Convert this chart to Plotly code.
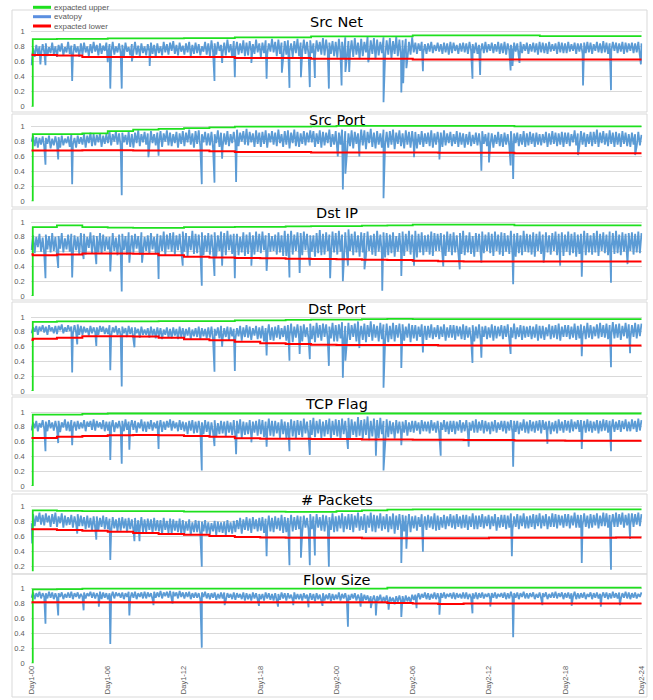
import plotly.graph_objects as go

W, H = 653, 700

panel_titles = ["Src Net", "Src Port", "Dst IP", "Dst Port", "TCP Flag", "# Packets", "Flow Size"]
x_tick_hours = [0, 6, 12, 18, 24, 30, 36, 42, 48]
x_tick_labels = ["Day1-00", "Day1-06", "Day1-12", "Day1-18", "Day2-00",
                 "Day2-06", "Day2-12", "Day2-18", "Day2-24"]
y_tick_vals = [0, 0.2, 0.4, 0.6, 0.8, 1]
y_tick_text = ["0", "0.2", "0.4", "0.6", "0.8", "1"]
bound_hours = [0, 0.1] + list(range(2, 49, 2))

# ---- evatopy band (percent, 8 readings per hour over 48 h) ----
srcnet_band = [
    55,78,66,82,70,80,68,83, 72,84,67,79,71,85,69,80, 66,82,73,84,68,79,72,86, 70,81,67,83,72,80,66,84,
    69,85,72,80,67,83,71,86, 73,82,68,84,70,81,74,85, 67,83,71,86,69,80,72,84, 70,82,66,85,73,79,68,83,
    72,86,69,81,67,84,71,80, 68,83,73,85,70,82,66,84, 71,80,68,86,72,83,69,85, 74,87,70,82,68,85,73,81,
    69,84,72,86,67,82,70,85, 71,83,68,80,73,86,69,84, 67,88,72,84,69,86,74,82, 70,85,68,89,72,83,66,87,
    73,86,69,84,71,88,67,85, 68,87,73,83,70,89,72,84, 66,85,71,88,69,84,73,90, 72,86,67,89,70,85,68,87,
    69,88,73,84,66,87,71,90, 67,85,72,89,70,86,68,88, 71,84,66,88,73,86,69,91, 68,89,72,85,70,87,67,86,
    65,90,70,86,64,92,68,87, 71,88,66,91,69,85,63,90, 67,86,72,93,65,88,70,91, 63,89,68,86,71,92,66,88,
    69,91,64,87,70,93,67,89, 65,88,71,90,63,86,69,92, 72,85,70,84,74,86,71,83, 70,84,73,86,71,82,74,85,
    73,83,70,85,72,84,69,86, 71,85,74,82,70,84,73,85, 72,84,70,86,74,83,71,85, 70,82,73,84,71,86,72,83,
    74,85,71,83,73,86,70,84, 71,86,69,84,74,82,72,85, 73,84,70,86,71,83,74,85, 70,83,73,85,72,84,69,86,
    72,85,71,84,70,86,73,83, 74,84,70,86,72,85,71,84, 71,86,73,83,74,85,70,84, 73,84,70,85,71,86,72,85,
    70,83,74,86,72,84,71,87, 72,85,70,84,73,86,74,85, 71,84,73,86,70,85,72,84, 74,85,71,84,72,86,70,84]
srcport_band = [
    80,88,74,86,72,85,76,87, 73,85,77,88,71,84,75,87, 76,86,72,88,75,84,78,87, 73,89,76,85,72,88,77,86,
    76,90,72,88,78,92,74,90, 75,89,79,91,73,88,77,90, 78,93,75,90,80,94,76,91, 74,92,79,89,76,93,73,90,
    72,92,78,95,74,90,79,93, 76,91,73,94,78,90,75,92, 77,94,73,91,80,95,75,92, 74,90,78,93,72,91,77,94,
    74,92,79,96,76,91,72,94, 77,95,73,90,79,93,75,91, 75,93,71,90,78,95,73,92, 72,91,76,94,74,90,78,93,
    78,96,74,92,80,94,76,97, 75,93,79,91,73,95,77,92, 73,93,77,95,72,91,79,94, 76,92,74,96,78,90,73,94,
    76,95,71,92,78,96,74,93, 73,91,77,94,75,92,79,95, 79,94,73,91,77,95,72,93, 75,92,78,96,73,90,76,94,
    70,92,76,96,72,94,68,91, 74,95,71,93,77,91,73,96, 75,95,70,93,78,97,73,92, 71,94,76,91,72,96,75,93,
    72,94,76,96,70,92,77,95, 74,91,71,95,76,93,72,94, 74,93,71,90,76,94,73,91, 77,92,74,95,72,91,76,93,
    77,92,73,95,75,91,78,93, 74,90,77,94,73,92,76,91, 72,90,76,93,74,89,77,92, 75,91,73,94,77,90,74,92,
    75,91,72,89,77,93,74,90, 73,92,76,90,74,94,72,91, 78,92,74,90,76,94,73,91, 75,93,77,91,73,92,76,90,
    75,90,78,93,73,91,76,94, 77,92,74,91,76,93,73,92, 77,92,74,90,79,95,75,91, 74,94,76,92,73,90,77,93,
    74,93,77,96,73,92,78,94, 76,91,74,95,77,92,73,93, 76,91,73,94,77,92,74,90, 73,92,76,90,74,93,75,89]
dstip_band = [
    62,82,58,80,66,84,60,79, 57,83,63,81,59,85,61,80, 55,81,64,85,59,78,63,83, 60,84,57,82,62,80,56,85,
    60,84,56,80,65,86,58,82, 63,81,59,85,57,83,61,80, 63,80,57,85,61,79,55,83, 58,84,62,81,56,86,60,82,
    59,84,64,81,56,86,62,80, 61,82,57,85,63,80,58,84, 57,82,61,87,55,83,63,85, 60,86,56,82,62,84,58,87,
    60,85,54,81,62,88,57,84, 58,83,61,86,55,82,60,85, 56,83,60,86,53,82,61,87, 59,85,55,88,62,83,57,84,
    62,84,55,80,59,86,54,83, 57,86,61,82,56,87,60,84, 58,87,62,82,55,85,60,81, 61,83,56,86,59,82,54,88,
    54,84,59,88,56,83,61,86, 58,85,55,87,62,84,57,82, 60,82,53,85,58,89,55,84, 56,86,61,83,54,87,59,85,
    56,88,60,83,52,86,58,90, 61,84,55,87,59,82,53,86, 59,85,54,87,61,82,56,84, 54,88,60,83,57,86,52,85,
    55,83,58,86,53,81,60,85, 58,87,54,84,61,88,56,83, 57,88,52,84,59,86,55,82, 60,83,56,87,54,85,61,84,
    61,85,56,83,54,87,60,84, 55,86,59,82,62,85,57,88, 55,82,59,86,57,81,53,85, 60,84,55,87,58,83,61,86,
    58,84,54,87,61,83,56,86, 54,85,60,82,57,88,55,84, 53,85,58,82,55,88,60,84, 59,83,56,86,53,84,61,87,
    57,83,54,86,59,82,56,85, 61,87,55,84,58,86,54,83, 60,87,55,84,58,86,53,83, 57,84,61,88,55,85,59,82,
    56,85,59,88,54,84,61,86, 58,83,55,87,60,85,57,88, 58,83,55,86,60,84,57,85, 61,86,56,84,59,87,58,85]
dstport_band = [
    78,86,80,88,76,87,81,89, 79,87,76,89,81,86,78,88, 77,88,82,90,78,86,80,89, 81,87,77,89,79,90,76,88,
    76,87,79,85,75,88,78,86, 79,86,76,88,80,87,77,85, 77,89,74,86,79,88,76,85, 75,87,78,85,73,88,77,86,
    73,86,78,84,72,87,76,83, 76,85,72,87,75,84,71,86, 74,85,70,83,76,86,72,84, 71,86,75,84,70,87,73,85,
    71,84,75,86,70,83,74,85, 73,87,70,85,74,84,71,86, 72,87,69,84,75,86,71,88, 70,85,73,87,68,86,74,84,
    70,85,74,88,68,86,73,89, 72,87,69,85,75,88,70,86, 71,88,67,85,74,90,69,86, 68,87,72,89,70,85,73,88,
    68,89,73,91,66,87,72,90, 71,88,67,90,73,86,69,91, 70,88,66,92,72,89,68,91, 73,90,69,87,71,92,67,89,
    67,90,71,93,65,88,70,92, 69,89,73,91,67,94,71,88, 69,91,66,89,73,94,68,90, 72,88,67,92,70,90,66,91,
    66,88,70,92,67,89,72,91, 70,90,68,87,72,91,66,89, 71,89,68,87,73,90,69,88, 69,88,72,90,70,86,73,89,
    70,87,73,90,68,86,72,89, 72,89,69,88,74,87,70,90, 69,88,72,86,70,89,67,87, 71,90,68,87,73,88,70,86,
    72,90,68,88,71,87,74,89, 70,88,73,90,69,86,72,91, 70,86,73,89,69,88,72,87, 73,88,70,87,72,90,68,88,
    71,88,69,86,74,90,70,88, 72,89,70,91,68,87,73,89, 73,89,70,87,72,91,69,88, 71,90,74,88,70,92,72,89,
    70,87,74,90,71,92,73,89, 72,91,70,89,74,93,71,90, 72,91,69,88,74,92,71,90, 70,89,73,92,71,90,74,91]
tcpflag_band = [
    75,86,78,88,74,85,79,89, 77,87,74,89,78,86,75,88, 77,88,73,86,79,90,75,87, 74,89,78,87,75,88,77,86,
    78,89,74,87,80,88,76,90, 75,88,79,86,77,89,74,87, 75,87,79,89,73,86,78,88, 77,88,74,90,76,87,79,89,
    76,88,72,86,78,90,74,87, 73,87,77,89,75,86,78,88, 77,89,73,87,76,88,79,90, 75,88,78,86,74,89,76,87,
    74,86,70,88,75,89,71,87, 72,88,75,86,70,89,73,87, 68,86,72,89,66,85,70,88, 71,87,67,88,72,86,69,89,
    67,88,71,90,65,87,69,86, 70,89,66,87,72,88,68,90, 70,89,66,87,72,91,68,88, 67,88,71,86,65,90,70,87,
    65,86,70,90,67,88,64,89, 69,88,66,91,71,87,67,89, 69,92,66,88,71,90,65,87, 67,89,70,91,64,88,69,90,
    67,89,63,91,70,88,66,92, 65,90,69,87,66,93,68,89, 64,90,69,94,62,88,67,91, 68,89,65,92,70,88,63,90,
    66,88,70,86,64,89,71,87, 69,87,72,89,68,86,73,88, 72,88,75,86,70,89,74,87, 74,87,71,89,75,86,72,88,
    71,86,76,89,73,87,70,88, 73,88,70,87,75,89,72,86, 74,89,71,86,75,88,72,90, 72,87,75,89,71,88,74,86,
    70,87,74,89,72,86,76,88, 74,88,71,87,75,89,72,88, 73,88,70,86,75,90,72,87, 71,89,74,87,72,88,75,89,
    71,89,76,87,73,88,70,86, 74,88,71,90,75,87,72,89, 75,88,72,90,74,87,77,89, 73,89,76,88,72,90,74,88,
    72,87,75,89,71,88,74,90, 75,89,72,88,76,90,73,87, 76,89,73,88,77,90,74,87, 74,90,77,88,73,91,75,89]
packets_band = [
    78,90,74,88,80,92,76,89, 75,91,79,88,73,90,77,92, 73,87,78,91,72,88,75,86, 76,89,72,87,77,90,74,88,
    74,86,70,88,72,85,68,87, 71,87,69,85,73,88,70,86, 70,84,66,86,71,83,67,85, 68,86,71,84,66,85,70,83,
    68,85,64,82,70,86,66,83, 66,84,69,83,65,85,68,82, 67,82,63,85,69,81,65,84, 64,83,68,81,66,84,63,82,
    64,80,68,83,62,79,66,82, 66,81,63,80,67,82,64,79, 63,78,67,81,62,80,66,79, 65,80,62,82,66,79,64,81,
    66,82,70,85,64,83,69,86, 68,84,65,86,70,83,67,85, 68,86,65,84,70,88,67,85, 66,87,70,85,68,89,65,86,
    66,85,71,89,67,86,69,88, 70,87,66,88,72,85,68,90, 70,87,66,90,72,86,68,89, 67,88,71,86,69,91,66,87,
    67,88,71,91,66,87,70,90, 69,90,66,88,72,92,68,87, 69,90,65,88,72,92,67,89, 66,88,71,91,68,87,70,90,
    66,87,70,91,64,88,69,90, 70,89,67,88,71,90,66,87, 71,88,68,86,73,90,70,87, 69,89,72,87,70,91,68,88,
    69,86,72,89,70,87,74,90, 72,88,70,90,73,87,71,89, 72,89,69,87,73,91,70,88, 70,88,73,90,71,87,74,89,
    70,87,74,90,68,86,72,89, 73,89,70,88,72,91,69,87, 73,90,70,88,74,91,71,87, 71,88,73,90,70,89,74,91,
    71,88,74,90,70,87,73,91, 73,90,71,89,75,88,72,90, 74,90,71,88,75,92,72,89, 72,89,75,91,73,88,71,90,
    72,89,75,91,71,88,74,92, 74,91,72,89,75,90,73,92, 73,90,76,92,72,89,75,91, 75,91,73,90,76,92,74,90]
flowsize_band = [
    88,95,86,94,89,96,87,94, 89,94,87,96,88,95,86,94, 87,94,89,95,86,93,88,95, 88,96,86,94,89,95,87,93,
    89,95,87,94,90,96,88,95, 87,94,89,96,86,95,88,94, 86,94,89,96,87,95,90,94, 88,95,86,94,89,96,87,95,
    88,96,86,94,89,95,87,96, 87,95,89,94,86,96,88,95, 89,97,87,95,90,96,88,97, 88,96,90,95,87,97,89,95,
    87,95,89,96,86,94,88,95, 88,94,86,95,89,96,87,94, 86,94,88,95,85,93,87,95, 87,95,85,94,88,93,86,95,
    85,94,88,93,86,95,84,94, 86,93,84,95,87,94,85,93, 86,93,84,95,87,94,85,93, 84,94,86,93,85,95,87,94,
    84,94,87,92,85,95,86,93, 86,93,84,94,87,92,85,94, 85,93,83,94,86,92,84,94, 84,92,86,94,83,93,85,92,
    86,95,84,93,87,94,85,92, 85,93,87,94,84,92,86,94, 83,92,85,91,82,90,84,91, 82,90,84,92,81,89,83,91,
    80,89,83,88,79,90,82,91, 82,90,80,91,83,89,81,92, 85,92,87,94,86,93,88,95, 86,94,85,93,87,95,86,94,
    86,94,88,95,87,93,89,94, 87,95,86,94,88,93,87,95, 87,95,86,93,88,94,87,95, 86,94,88,95,87,93,89,94,
    86,94,88,95,87,93,89,94, 88,95,86,94,87,96,88,94, 88,95,86,94,89,96,87,94, 87,94,89,95,86,93,88,95,
    87,94,89,95,86,93,88,95, 88,96,87,94,89,95,86,94, 88,95,87,94,89,96,86,94, 87,94,88,95,86,93,89,95,
    86,94,88,95,87,93,89,95, 88,95,86,94,87,96,88,94, 87,95,86,94,88,96,87,95, 86,94,88,95,87,93,89,95]

# ---- sharp drops of evatopy: [hour, percent] ----
srcnet_dips = [[0.7,56],[1.1,55],[3.2,34],[6.0,59],[6.2,24],[7.1,24],[7.9,60],[9.3,54],
    [14.4,34],[15.0,58],[16.0,39],[17.3,58],[18.5,37],[19.7,45],[20.3,25],[21.2,39],
    [21.9,26],[22.3,38],[23.4,24],[24.4,28],[24.7,46],[25.0,46],[26.5,59],[27.7,6],
    [29.1,19],[29.25,31],[29.5,51],[30.8,47],[34.7,37],[35.3,42],[37.7,48],[37.85,54],
    [38.4,58],[43.4,28],[45.6,22],[47.95,56]]
srcport_dips = [[1.1,49],[2.1,56],[3.2,23],[7.1,8],[9.2,59],[10.0,61],[13.4,23],[14.4,25],
    [15.0,57],[16.1,26],[24.1,60],[24.5,16],[24.7,37],[25.8,60],[27.7,4],[30.1,59],
    [32.1,56],[35.4,41],[36.0,52],[37.7,48],[37.9,30],[43.0,62],[47.5,62]]
dstip_dips = [[1.1,24],[2.1,38],[3.2,25],[4.1,50],[5.1,43],[6.2,33],[7.1,6],[7.7,45],
    [8.7,45],[10.0,23],[11.9,41],[13.4,14],[14.4,27],[15.0,41],[16.0,24],[17.3,41],
    [18.5,34],[20.3,25],[21.1,31],[21.9,41],[23.5,24],[24.5,20],[24.9,41],[26.2,36],
    [27.6,7],[29.1,27],[30.1,41],[32.4,40],[33.7,36],[35.4,45],[37.9,16],[40.3,45],
    [41.6,41],[43.3,26],[45.6,18],[46.9,43]]
dstport_dips = [[3.2,25],[3.6,63],[5.1,61],[6.2,28],[7.1,6],[8.1,59],[14.4,26],[15.0,60],
    [16.0,27],[18.5,48],[20.3,41],[21.1,50],[21.9,43],[23.4,34],[24.5,18],[24.7,41],
    [25.8,58],[27.7,4.5],[29.1,31],[30.8,52],[34.7,38],[35.4,45],[37.7,50],[43.3,47],
    [45.6,32],[47.1,51]]
tcpflag_dips = [[1.1,47],[2.1,58],[3.2,55],[6.2,35],[7.1,30],[7.7,49],[10.0,50],[13.4,21],
    [14.4,54],[16.1,43],[17.3,59],[18.5,53],[20.3,47],[21.9,42],[24.9,50],[27.1,41],
    [27.7,21],[29.1,55],[32.2,41],[34.4,53],[37.9,26],[40.6,57],[43.3,50],[45.6,47]]
packets_dips = [[0.05,51],[3.6,64],[5.1,56],[6.2,29],[8.1,54],[8.5,54],[13.4,20],[18.5,34],
    [20.3,22],[21.2,32],[21.9,22],[22.3,35],[23.4,20],[29.1,25],[29.5,44],[30.8,40],
    [37.8,34],[43.3,25],[45.6,16],[47.1,57]]
flowsize_dips = [[1.1,53],[2.1,64],[4.1,71],[5.3,76],[6.2,26],[7.7,64],[9.6,78],[11.1,80],
    [13.4,21],[15.2,78],[17.9,77],[19.4,76],[20.6,78],[21.8,75],[22.9,77],[24.9,49],
    [25.9,76],[26.7,74],[27.1,64],[28.1,72],[29.1,62],[30.3,74],[32.1,65],[34.7,67],
    [36.1,76],[37.9,35],[40.2,78],[42.5,77],[44.8,76],[46.3,78]]

# ---- expected bounds (percent, at bound_hours) ----
srcnet_upper = [0, 89.5, 90, 90, 90.5, 90.5, 90.5, 91, 91, 92, 92, 92, 93.3, 93.3, 93.3, 93.3,
                94.7, 94.7, 94.7, 94.7, 94.7, 93.5, 93.5, 93.5, 93.5, 93.5]
srcnet_lower = [69, 68.5, 68, 66, 66, 66, 66, 66, 66, 64.5, 64.5, 64.5, 63.5, 63.5, 63.5, 63.5,
                62.5, 62.5, 62.5, 62.5, 62.5, 62.5, 62.5, 62.5, 62.5, 62.5]
srcport_upper = [0, 90, 90, 91, 94, 96, 97, 98, 99, 100, 100, 100, 100.5, 101, 101, 101,
                 101, 101, 101, 101, 100.5, 100.5, 100.5, 100.5, 100.5, 100.5]
srcport_lower = [68, 68, 68, 68.5, 68.5, 68, 68, 68, 67, 66, 66, 66, 65.5, 65.5, 65.5, 65.5,
                 65.5, 65, 65, 65, 64.5, 64.5, 64.5, 64.5, 64.5, 64.5]
dstip_upper = [0, 93, 95.5, 93, 92.5, 92, 92, 93, 93, 93.5, 93.5, 94, 94.5, 94.5, 95, 95.5,
               96.5, 96.5, 96.5, 96.5, 95.5, 95.5, 95.5, 95.5, 95.5, 95.5]
dstip_lower = [56.5, 55, 56, 57.5, 57.5, 57, 55, 53, 52, 51.5, 51, 50.5, 50, 49.5, 49, 48.5,
               47.5, 47, 46.5, 46.5, 46.5, 46.5, 46.5, 46.5, 46.5, 46.5]
dstport_upper = [0, 93.5, 94, 94, 94, 94, 94.5, 94.5, 94.5, 95.5, 95.5, 96, 96.5, 96.5, 97, 97.5,
                 97, 97, 97, 97, 97, 97, 97, 97, 97, 97]
dstport_lower = [69, 70.5, 72, 74, 74, 73.5, 72, 70, 68.5, 66.5, 64.5, 63.5, 62.5, 62, 62, 62,
                 62, 61.5, 61.5, 61.5, 61.5, 61.5, 61.5, 61.5, 61.5, 61.5]
tcpflag_upper = [0, 96.5, 96.5, 97.5, 98, 98, 98, 98, 98, 98, 98, 98, 98, 98, 98, 98,
                 98, 98, 98, 98, 98, 98, 98, 98, 98, 98]
tcpflag_lower = [65, 65, 66.5, 67.5, 68.5, 69, 68.5, 67.5, 66.5, 64.5, 64, 64, 63.5, 63.5, 63, 63,
                 62.5, 62.5, 62, 62, 61.5, 61.5, 61, 61, 61, 61]
packets_upper = [0, 95, 94.5, 94, 94, 94, 94, 93.5, 93.5, 93.5, 93.5, 93, 93, 94, 95, 96,
                 96.5, 96.5, 96.5, 96.5, 96.5, 96.5, 96.5, 96.5, 96.5, 96.5]
packets_lower = [70, 70, 69, 68, 66.5, 65, 63.5, 62.5, 61, 59.5, 59, 58.5, 58.5, 58.5, 58, 58,
                 58, 58, 58, 58.5, 58.5, 58.5, 58.5, 58.5, 59, 59]
flowsize_upper = [0, 99, 99.5, 100, 100, 100, 100, 100, 100, 100, 100, 100, 100, 100, 100, 101.5,
                  101.5, 101.5, 101.5, 101.5, 101.5, 101.5, 101.5, 101.5, 101.5, 101.5]
flowsize_lower = [82, 82, 82, 82, 82, 82, 82, 82, 82, 82, 82, 82, 82, 82, 82, 81,
                  80, 79.5, 80, 80, 80, 80, 80, 80, 80, 80]

bands = [srcnet_band, srcport_band, dstip_band, dstport_band, tcpflag_band, packets_band, flowsize_band]
dips = [srcnet_dips, srcport_dips, dstip_dips, dstport_dips, tcpflag_dips, packets_dips, flowsize_dips]
uppers = [srcnet_upper, srcport_upper, dstip_upper, dstport_upper, tcpflag_upper, packets_upper, flowsize_upper]
lowers = [srcnet_lower, srcport_lower, dstip_lower, dstport_lower, tcpflag_lower, packets_lower, flowsize_lower]

# ---- layout geometry (pixels) ----
# (pixel of y=1, pixel of y=0, y-range min)
panel_px = [(31.3, 106.7, 0), (126.7, 201.3, 0), (222, 296, 0), (317, 391, 0),
            (412, 486, 0), (506.7, 581.7, 0.14), (588.7, 663.3, 0)]
title_y = [22, 120, 213, 309, 404, 500, 580]
boxes = [(12, 10, 647, 112), (12, 114, 647, 207), (12, 209, 647, 300), (12, 302, 647, 395),
         (12, 397, 647, 491), (12, 494, 647, 574), (12, 574, 647, 697)]
X0, X1 = 31.5, 641.5
YMAX = 1.04
XPAD = 0.06

BLUE = "#5B9BD5"
GREEN = "#1EE01E"
RED = "#FF0000"
GRID = "#D9D9D9"
TXT = "#595959"


def px(x):
    return x / W


def py(y):
    return 1 - y / H


def merged(band, dip):
    n = len(band)
    pts = [(48 * i / (n - 1), v / 100) for i, v in enumerate(band)]
    pts += [(h, v / 100) for h, v in dip]
    pts.sort()
    return [p[0] for p in pts], [p[1] for p in pts]


fig = go.Figure()
layout = {}
kx = (X1 - X0) / 48
for i in range(7):
    n = "" if i == 0 else str(i + 1)
    p1, p0, ymin = panel_px[i]
    u = p0 - p1
    xs, ys = merged(bands[i], dips[i])
    fig.add_trace(go.Scatter(x=xs, y=ys, mode="lines", line=dict(color=BLUE, width=1.8),
                             xaxis="x" + n, yaxis="y" + n, showlegend=False, name="evatopy"))
    fig.add_trace(go.Scatter(x=bound_hours, y=[v / 100 for v in uppers[i]], mode="lines",
                             line=dict(color=GREEN, width=1.8, shape="hv"),
                             xaxis="x" + n, yaxis="y" + n, showlegend=False, name="expacted upper"))
    fig.add_trace(go.Scatter(x=bound_hours, y=[v / 100 for v in lowers[i]], mode="lines",
                             line=dict(color=RED, width=2, shape="hv"),
                             xaxis="x" + n, yaxis="y" + n, showlegend=False, name="expacted lower"))
    layout["xaxis" + n] = dict(
        domain=[px(X0 - XPAD * kx), px(X1 + XPAD * kx)], range=[-XPAD, 48 + XPAD],
        anchor="y" + n, showgrid=False, zeroline=False, showline=False, automargin=False,
        tickvals=x_tick_hours, ticktext=x_tick_labels, tickangle=-90,
        showticklabels=(i == 6), ticks="",
        tickfont=dict(family="Liberation Sans", size=7.5, color=TXT))
    top_px = p0 - YMAX * u
    bot_px = p0 - ymin * u
    tv = [v for v in y_tick_vals if v >= ymin]
    tt = [t for v, t in zip(y_tick_vals, y_tick_text) if v >= ymin]
    layout["yaxis" + n] = dict(
        domain=[py(bot_px), py(top_px)], range=[ymin, YMAX], anchor="x" + n,
        tickvals=tv, ticktext=tt, showgrid=True, gridcolor=GRID, gridwidth=1,
        zeroline=False, showline=False, ticks="", ticklabelstandoff=5, automargin=False,
        tickfont=dict(family="Liberation Sans", size=7.5, color=TXT))

shapes = []
for (x0, y0, x1, y1) in boxes:
    shapes.append(dict(type="rect", xref="paper", yref="paper", x0=px(x0), x1=px(x1),
                       y0=py(y1), y1=py(y0), line=dict(color=GRID, width=1),
                       fillcolor="rgba(0,0,0,0)", layer="below"))

annotations = []
for i, t in enumerate(panel_titles):
    annotations.append(dict(text=t, xref="paper", yref="paper", x=px((X0 + X1) / 2),
                            y=py(title_y[i]), xanchor="center", yanchor="middle",
                            showarrow=False,
                            font=dict(family="DejaVu Sans", size=14.5, color="#000000",
                                      weight="normal")))

legend_items = [("expacted upper", GREEN, 7.3), ("evatopy", "#5B8FE0", 16.7),
                ("expacted lower", RED, 26)]
for name, col, yy in legend_items:
    shapes.append(dict(type="line", xref="paper", yref="paper", x0=px(33), x1=px(51),
                       y0=py(yy), y1=py(yy), line=dict(color=col, width=3)))
    annotations.append(dict(text=name, xref="paper", yref="paper", x=px(52), y=py(yy),
                            xanchor="left", yanchor="middle", showarrow=False,
                            font=dict(family="Liberation Sans", size=8, color=TXT)))

fig.update_layout(width=W, height=H, margin=dict(l=0, r=0, t=0, b=0, autoexpand=False),
                  paper_bgcolor="white", plot_bgcolor="white",
                  shapes=shapes, annotations=annotations, showlegend=False, **layout)

fig.write_html("out.html", config={"displayModeBar": False},
               post_script="document.body.style.margin='0';document.body.style.padding='0';")
